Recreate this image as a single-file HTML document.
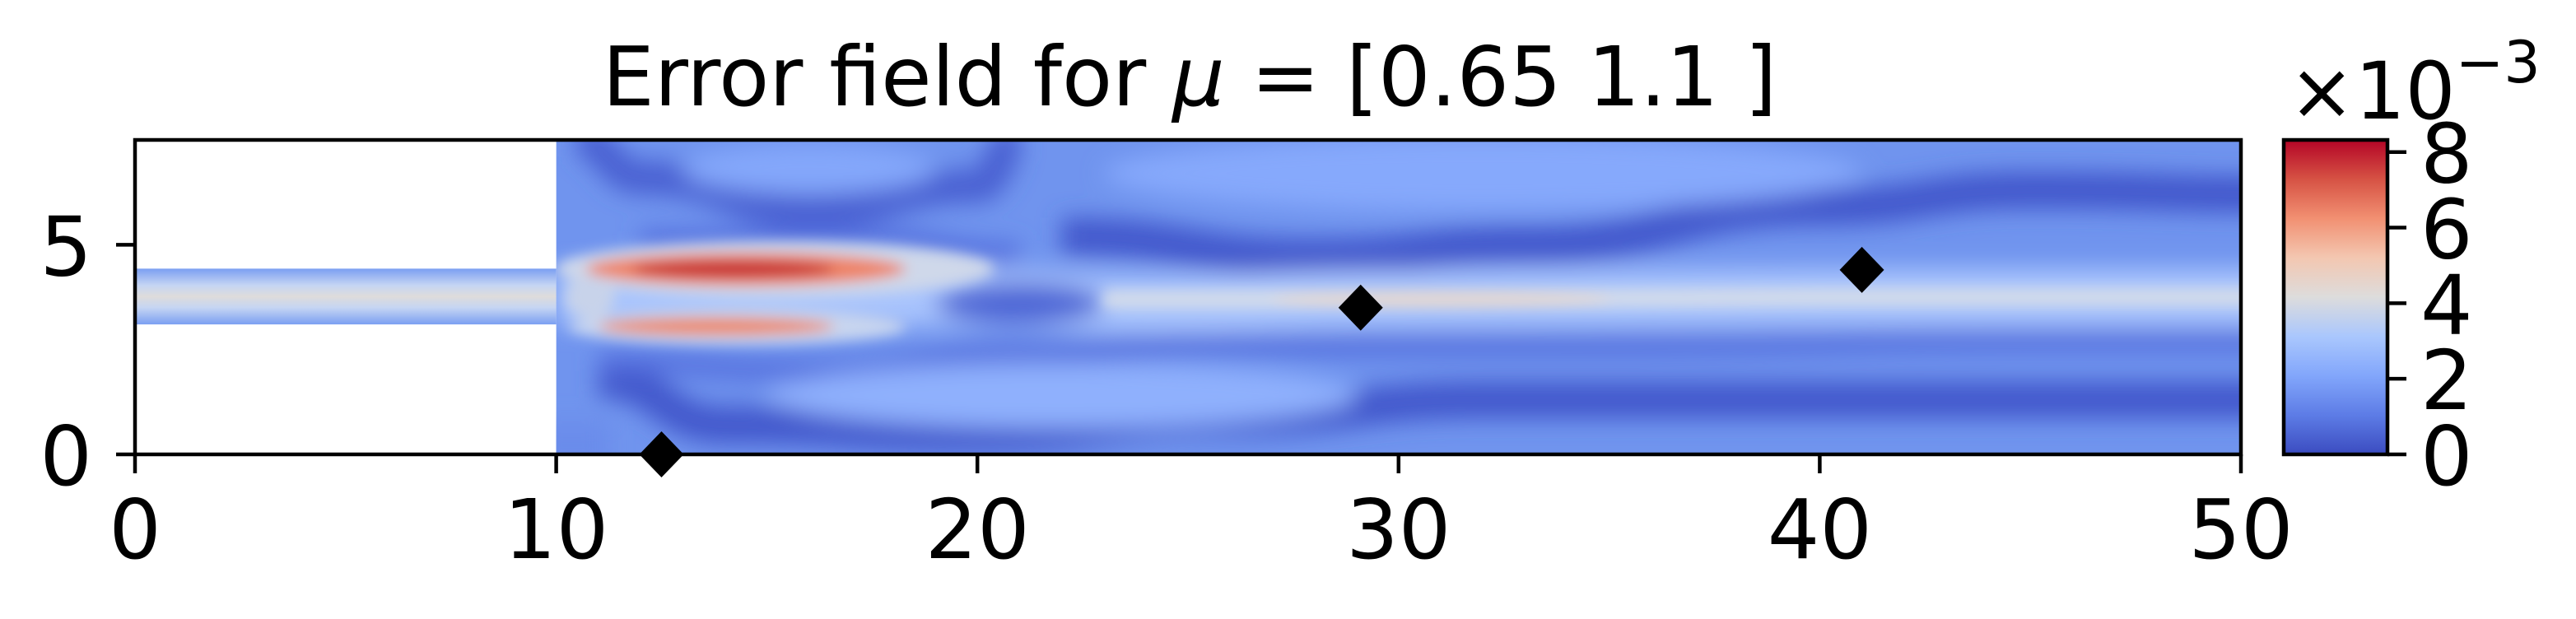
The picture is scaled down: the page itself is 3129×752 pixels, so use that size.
<!DOCTYPE html>
<html><head><meta charset="utf-8">
<style>
html,body{margin:0;padding:0;background:#fff;}
body{width:3129px;height:748px;overflow:hidden;font-family:"DejaVu Sans","Liberation Sans",sans-serif;}
text{font-family:"DejaVu Sans","Liberation Sans",sans-serif;}
</style></head>
<body>
<svg id="chart" width="3129" height="748" viewBox="0 0 3129 748" xmlns="http://www.w3.org/2000/svg">
<defs>
  <filter id="blur" x="-20%" y="-50%" width="140%" height="200%"><feGaussianBlur stdDeviation="14"/></filter>
  <filter id="blur2" x="-20%" y="-80%" width="140%" height="260%"><feGaussianBlur stdDeviation="8"/></filter>
  <clipPath id="domainClip"><rect id="clipRect" x="0" y="0" width="0" height="0"/></clipPath>
  <linearGradient id="chanGrad" x1="0" y1="0" x2="0" y2="1">
    <stop offset="0" stop-color="#7b9ff2"/><stop offset="0.3" stop-color="#c5d5f3"/>
    <stop offset="0.5" stop-color="#dedcdb"/><stop offset="0.7" stop-color="#c5d5f3"/>
    <stop offset="1" stop-color="#7b9ff2"/>
  </linearGradient>
  <linearGradient id="cbGrad" x1="0" y1="1" x2="0" y2="0">
    <stop offset="0" stop-color="#3b4cc0"/><stop offset="0.125" stop-color="#5d7ce6"/>
    <stop offset="0.25" stop-color="#82a6fb"/><stop offset="0.375" stop-color="#aac7fd"/>
    <stop offset="0.5" stop-color="#dddcdc"/><stop offset="0.625" stop-color="#f3c7b1"/>
    <stop offset="0.75" stop-color="#f29072"/><stop offset="0.875" stop-color="#d65244"/>
    <stop offset="1" stop-color="#b40426"/>
  </linearGradient>
</defs>
<text x="1445" y="128" font-size="100" text-anchor="middle">Error field for <tspan font-style="italic">μ</tspan> = [0.65 1.1 ]</text>
<g id="field"></g>
<g id="axes"></g>
<g id="markers"></g>
<g id="colorbar"></g>
</svg>
<script>
const xTicks = [0, 10, 20, 30, 40, 50];
const yTicks = [0, 5];
const cbTicks = [0, 2, 4, 6, 8];
const markerX = [12.5, 29.1, 41.0];
const markerY = [0.0, 3.5, 4.4];
const cbMax = 8.32;

const NS = 'http://www.w3.org/2000/svg';
const X0 = 164, X1 = 2722, Y0 = 552, Y1 = 170;
const sx = v => X0 + (v / 50) * (X1 - X0);
const sy = v => Y0 - (v / 7.5) * (Y0 - Y1);
const CBL = 2774, CBR = 2900;
const cy = v => Y0 - (v / cbMax) * (Y0 - Y1);
function mk(tag, attrs, parent) {
  const e = document.createElementNS(NS, tag);
  for (const k in attrs) e.setAttribute(k, attrs[k]);
  parent.appendChild(e);
  return e;
}
function curve(pts) {
  let d = 'M' + sx(pts[0][0]) + ',' + sy(pts[0][1]);
  for (let i = 1; i < pts.length; i++) {
    const p = pts[i - 1], q = pts[i];
    const mx = (p[0] + q[0]) / 2;
    d += ' C' + sx(mx) + ',' + sy(p[1]) + ' ' + sx(mx) + ',' + sy(q[1]) + ' ' + sx(q[0]) + ',' + sy(q[1]);
  }
  return d;
}

const cr = document.getElementById('clipRect');
cr.setAttribute('x', sx(10)); cr.setAttribute('y', sy(7.5));
cr.setAttribute('width', sx(50) - sx(10)); cr.setAttribute('height', sy(0) - sy(7.5));

const field = document.getElementById('field');
const ch = mk('rect', {x: sx(0), y: sy(4.43), width: sx(10) - sx(0), height: sy(3.1) - sy(4.43), fill: 'url(#chanGrad)'}, field);


const g = mk('g', {'clip-path': 'url(#domainClip)'}, field);


mk('rect', {x: sx(10), y: sy(7.5), width: sx(50) - sx(10), height: sy(0) - sy(7.5), fill: '#7094ee'}, g);
const bl = mk('g', {filter: 'url(#blur)'}, g);
mk('path', {d: curve([[10.5,7.5],[12,6.6],[16,5.8],[20,6.4],[21,7.5]]), stroke: '#4a60d2', 'stroke-width': 40, fill: 'none'}, bl);
mk('path', {d: curve([[22,5.2],[28,4.7],[33,5.0],[40,5.9],[45,6.3],[51,6.2]]), stroke: '#4258cc', 'stroke-width': 45, fill: 'none'}, bl);
mk('path', {d: curve([[11,1.8],[14,0.7],[20,0.5],[26,0.9],[32,1.3],[42,1.3],[51,1.3]]), stroke: '#4258cc', 'stroke-width': 45, fill: 'none'}, bl);
mk('path', {d: curve([[11,2.2],[16,2.0],[21,2.4],[26,2.6],[35,2.6],[45,2.7],[51,2.7]]), stroke: '#5470de', 'stroke-width': 25, fill: 'none'}, bl);
mk('path', {d: curve([[12,5.1],[17,5.2],[21,4.8]]), stroke: '#5470de', 'stroke-width': 25, fill: 'none'}, bl);
mk('ellipse', {cx: sx(16), cy: sy(6.8), rx: sx(3)-sx(0), ry: 30, fill: '#84a7fb'}, bl);
mk('ellipse', {cx: sx(32), cy: sy(6.7), rx: sx(9)-sx(0), ry: 45, fill: '#86a9fc'}, bl);
mk('ellipse', {cx: sx(22), cy: sy(1.4), rx: sx(7)-sx(0), ry: 40, fill: '#8fb0fd'}, bl);
mk('rect', {x: sx(9.5), y: sy(0.8), width: 90, height: 60, fill: '#6a8ceb'}, bl);
mk('path', {d: curve([[10,3.75],[20,3.75],[24,3.6],[30,3.7],[40,3.75],[51,3.75]]), stroke: '#a9c4fd', 'stroke-width': 70, fill: 'none'}, bl);
mk('ellipse', {cx: sx(21), cy: sy(3.6), rx: sx(2)-sx(0), ry: 25, fill: '#4e66d6'}, bl);
const bl2 = mk('g', {filter: 'url(#blur2)'}, g);
mk('path', {d: curve([[23,3.7],[30,3.7],[40,3.75],[51,3.75]]), stroke: '#d3dbea', 'stroke-width': 22, fill: 'none'}, bl2);
mk('ellipse', {cx: sx(31), cy: sy(3.7), rx: sx(4)-sx(0), ry: 10, fill: '#e5d8d1'}, bl2);
mk('ellipse', {cx: sx(15.2), cy: sy(4.42), rx: sx(5.2)-sx(0), ry: 34, fill: '#cfd8ea'}, bl2);
mk('ellipse', {cx: sx(14.5), cy: sy(4.42), rx: sx(3.8)-sx(0), ry: 20, fill: '#ee8468'}, bl2);
mk('ellipse', {cx: sx(14.2), cy: sy(4.42), rx: sx(2.4)-sx(0), ry: 11, fill: '#c7383a'}, bl2);
mk('ellipse', {cx: sx(14.3), cy: sy(3.05), rx: sx(4)-sx(0), ry: 22, fill: '#c8d5ef'}, bl2);
mk('ellipse', {cx: sx(13.8), cy: sy(3.05), rx: sx(2.8)-sx(0), ry: 11, fill: '#ec8a6c'}, bl2);
mk('ellipse', {cx: sx(10.8), cy: sy(3.75), rx: 30, ry: 25, fill: '#c8d3ea'}, bl2);

const ax = document.getElementById('axes');
mk('rect', {x: X0, y: Y1, width: X1 - X0, height: Y0 - Y1, fill: 'none', stroke: '#000', 'stroke-width': 4.5}, ax);
xTicks.forEach(t => {
  const l = mk('line', {x1: sx(t), x2: sx(t), y1: Y0, y2: Y0 + 23, stroke: '#000', 'stroke-width': 4.5}, ax);
  
  
  const tx = mk('text', {x: sx(t), y: 678, 'font-size': 100, 'text-anchor': 'middle'}, ax);
  tx.textContent = t;
  
  
});
yTicks.forEach(t => {
  const l = mk('line', {x1: X0 - 23, x2: X0, y1: sy(t), y2: sy(t), stroke: '#000', 'stroke-width': 4.5}, ax);
  
  
  const tx = mk('text', {x: X0 - 52, y: sy(t) + 37, 'font-size': 100, 'text-anchor': 'end'}, ax);
  tx.textContent = t;
  
  
});

const mg = document.getElementById('markers');
markerX.forEach((v, i) => {
  const x = sx(v), y = sy(markerY[i]);
  const p = mk('polygon', {points: `${x},${y-28} ${x+27},${y} ${x},${y+28} ${x-27},${y}`, fill: '#000'}, mg);
  
  
});

const cb = document.getElementById('colorbar');
const cbr = mk('rect', {x: CBL, y: Y1, width: CBR - CBL, height: Y0 - Y1, fill: 'url(#cbGrad)', stroke: '#000', 'stroke-width': 4.5}, cb);


cbTicks.forEach(t => {
  const l = mk('line', {x1: CBR, x2: CBR + 23, y1: cy(t), y2: cy(t), stroke: '#000', 'stroke-width': 4.5}, cb);
  
  
  const tx = mk('text', {x: CBR + 40, y: cy(t) + 37, 'font-size': 100}, cb);
  tx.textContent = t;
  
  
});
const ex = mk('text', {x: 2780, y: 144, 'font-size': 96}, cb);
ex.innerHTML = '×10<tspan dy="-44" font-size="70">−3</tspan>';


</script>
</body></html>
